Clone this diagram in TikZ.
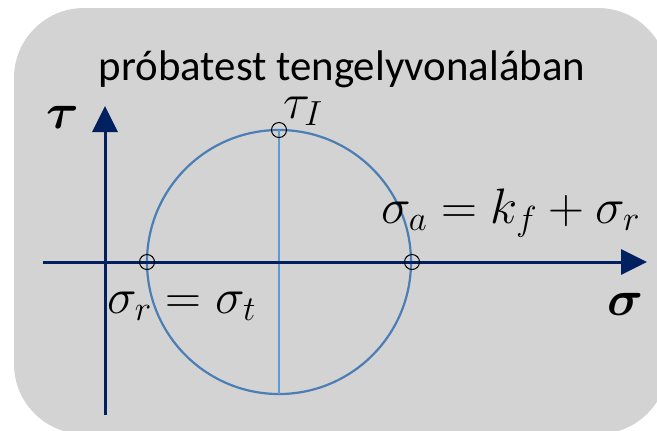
\RequirePackage{fix-cm}
\documentclass[tikz,border=0pt]{standalone}
\usepackage{amsmath}
\usepackage{fontspec}
\newfontfamily\titlefont{Carlito}
\usetikzlibrary{arrows.meta}
\definecolor{bggray}{RGB}{211,211,211}
\definecolor{axisnavy}{RGB}{0,32,96}
\definecolor{circblue}{RGB}{74,126,180}
\definecolor{lineblue}{RGB}{91,155,213}
\tikzset{
  axisline/.style={draw=axisnavy, line width=3bp, -{Triangle[length=26bp,width=25bp]}},
  mohr/.style={draw=circblue, line width=2.2bp},
  radline/.style={draw=lineblue, line width=1.2bp},
  marker/.style={circle, draw=black, line width=1bp, minimum size=15bp, inner sep=0pt},
  mathlabel/.style={inner sep=0pt, font=\fontsize{50}{58}\selectfont},
  titletext/.style={inner sep=0pt, font=\titlefont\fontsize{43}{51}\selectfont}
}
\begin{document}
\begin{tikzpicture}[x=1bp, y=-1bp]
\useasboundingbox (0,0) rectangle (657,430);
\fill[bggray, rounded corners=70bp] (14,8) rectangle (668,434);
\node[titletext, anchor=base] (title) at (342,80) {próbatest tengelyvonalában};
% Mohr circle
\coordinate (C) at (279,262);
\draw[mohr] (C) circle[radius=132bp];
\coordinate (top) at (279,130);
\coordinate (bot) at (279,394);
\draw[radline] (top) -- (bot);
% axes
\coordinate (xs) at (43,262);
\coordinate (xe) at (647,262);
\coordinate (ys) at (105,415);
\coordinate (ye) at (105,106);
\draw[axisline] (xs) -- (xe);
\draw[axisline] (ys) -- (ye);
% markers
\node[marker] (pr) at (147,262) {};
\node[marker] (pa) at (412,262) {};
\node[marker] (pi) at (279,130) {};
% labels
\node[mathlabel, anchor=base] (tau) at (63,128) {$\boldsymbol{\tau}$};
\node[mathlabel, anchor=base] (sig) at (625,315) {$\boldsymbol{\sigma}$};
\node[mathlabel, anchor=base west] (tauI) at (283,118) {$\tau_I$};
\node[mathlabel, anchor=base west] (sr) at (107,313) {$\sigma_r=\sigma_t$};
\node[mathlabel, anchor=base west] (sa) at (381,223) {$\sigma_a=k_f+\sigma_r$};
\end{tikzpicture}
\end{document}
